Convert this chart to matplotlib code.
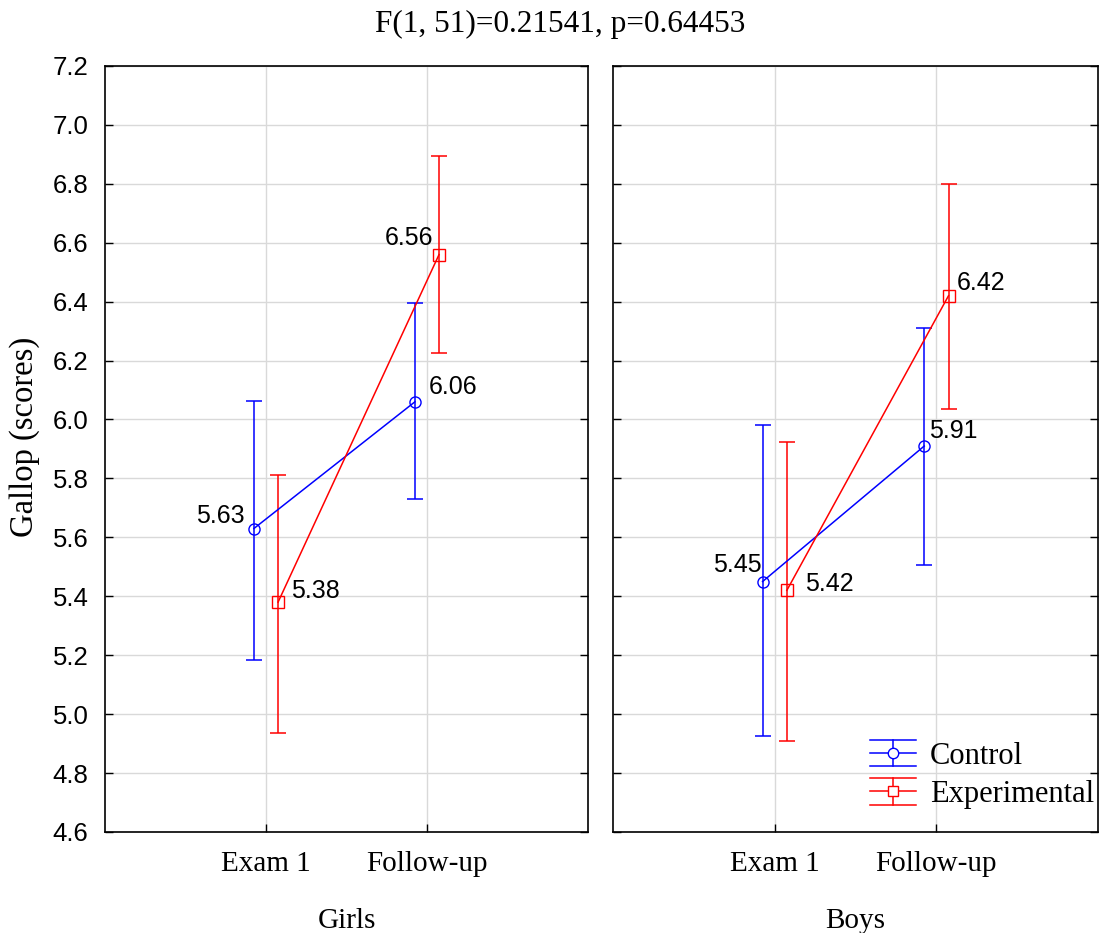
import matplotlib
matplotlib.use("Agg")
import matplotlib.pyplot as plt
from matplotlib.lines import Line2D
from matplotlib.legend_handler import HandlerBase
import numpy as np

# ---- data ----
groups = ["Girls", "Boys"]
times = ["Exam 1", "Follow-up"]
series = ["Control", "Experimental"]
colors = {"Control": "#0000ff", "Experimental": "#ff0000"}
markers = {"Control": "o", "Experimental": "s"}

means = {
    "Girls": {"Control": [5.63, 6.06], "Experimental": [5.38, 6.56]},
    "Boys": {"Control": [5.45, 5.91], "Experimental": [5.42, 6.42]},
}
lower = {
    "Girls": {"Control": [5.183, 5.729], "Experimental": [4.936, 6.227]},
    "Boys": {"Control": [4.925, 5.505], "Experimental": [4.908, 6.034]},
}
upper = {
    "Girls": {"Control": [6.064, 6.397], "Experimental": [5.812, 6.895]},
    "Boys": {"Control": [5.983, 6.312], "Experimental": [5.922, 6.800]},
}
yticks = [4.6, 4.8, 5.0, 5.2, 5.4, 5.6, 5.8, 6.0, 6.2, 6.4, 6.6, 6.8, 7.0, 7.2]
title = "F(1, 51)=0.21541, p=0.64453"
ylabel = "Gallop (scores)"

# label placement (ha, dx px, dy px)
label_pos = {
    "Girls": {"Control": [("right", -9, 13), ("left", 14, 15)],
              "Experimental": [("left", 13, 11), ("right", -6, 17)]},
    "Boys": {"Control": [("right", -1, 17), ("left", 5, 15)],
             "Experimental": [("left", 18, 6), ("left", 8, 13)]},
}

serif = ["Liberation Serif", "DejaVu Serif"]
sans = ["Liberation Sans", "DejaVu Sans"]

fig = plt.figure(figsize=(11.04, 9.33), dpi=100)
axes = [fig.add_axes([0.0951, 0.1083, 0.4375, 0.821]),
        fig.add_axes([0.5553, 0.1083, 0.4393, 0.821])]

offsets = {"Control": -0.075, "Experimental": 0.075}
x = np.arange(len(times))

for ax, g in zip(axes, groups):
    for s in series:
        m = np.array(means[g][s])
        lo = m - np.array(lower[g][s])
        hi = np.array(upper[g][s]) - m
        ax.errorbar(x + offsets[s], m, yerr=[lo, hi], color=colors[s],
                    marker=markers[s], markersize=8, markerfacecolor="none",
                    markeredgecolor=colors[s], linewidth=1.1, elinewidth=1.1,
                    capsize=6, capthick=1.1, zorder=3)
        for i, v in enumerate(m):
            ha, dx, dy = label_pos[g][s][i]
            ax.annotate(f"{v:.2f}", (x[i] + offsets[s], v), xytext=(dx, dy),
                        textcoords="offset pixels", ha=ha, va="center",
                        fontsize=18, family=sans, zorder=4)
    ax.set_xlim(-1, 2)
    ax.set_ylim(4.6, 7.2)
    ax.set_yticks(yticks)
    ax.set_yticklabels([f"{t:.1f}" for t in yticks], family=sans, fontsize=18.5)
    ax.set_xticks(x)
    ax.set_xticklabels(times, family=serif, fontsize=21)
    ax.grid(True, color="#d9d9d9", linewidth=1.0, zorder=0)
    ax.set_axisbelow(True)
    ax.tick_params(direction="in", length=6, width=1, left=True, right=True,
                   top=False, bottom=True)
    ax.tick_params(axis="y", pad=12)
    ax.tick_params(axis="x", pad=14)
    ax.set_xlabel(g, family=serif, fontsize=21, labelpad=22)
    for sp in ax.spines.values():
        sp.set_linewidth(1.2)

axes[1].tick_params(labelleft=False)
fig.text(25 / 1104, 1 - 437 / 933, ylabel, rotation=90, ha="center",
         va="center", family=serif, fontsize=23.5)
fig.text(0.507, 1 - 24 / 933, title, ha="center", va="center", family=serif,
         fontsize=22.5)


class ErrHandler(HandlerBase):
    def __init__(self, color, marker):
        super().__init__()
        self.color = color
        self.marker = marker

    def create_artists(self, legend, orig_handle, xdescent, ydescent, width,
                       height, fontsize, trans):
        cy = height / 2 - ydescent
        h = height * 0.62
        x0, x1 = -xdescent, -xdescent + width
        xc = (x0 + x1) / 2
        arts = [
            Line2D([x0, x1], [cy, cy], color=self.color, lw=1.1),
            Line2D([x0, x1], [cy + h, cy + h], color=self.color, lw=1.1),
            Line2D([x0, x1], [cy - h, cy - h], color=self.color, lw=1.1),
            Line2D([xc, xc], [cy - h, cy + h], color=self.color, lw=1.1),
            Line2D([xc], [cy], marker=self.marker, markersize=7.5,
                   markerfacecolor="white", markeredgecolor=self.color,
                   linestyle="none"),
        ]
        for a in arts:
            a.set_transform(trans)
        return arts


h_c = Line2D([], [], color=colors["Control"])
h_e = Line2D([], [], color=colors["Experimental"])
axes[1].legend([h_c, h_e], series,
               handler_map={h_c: ErrHandler(colors["Control"], "o"),
                            h_e: ErrHandler(colors["Experimental"], "s")},
               loc="lower right", bbox_to_anchor=(1.048, -0.006), frameon=False,
               prop={"family": serif, "size": 22}, handlelength=1.5,
               handletextpad=0.45, labelspacing=0.3)

fig.savefig("out.png", dpi=100)
